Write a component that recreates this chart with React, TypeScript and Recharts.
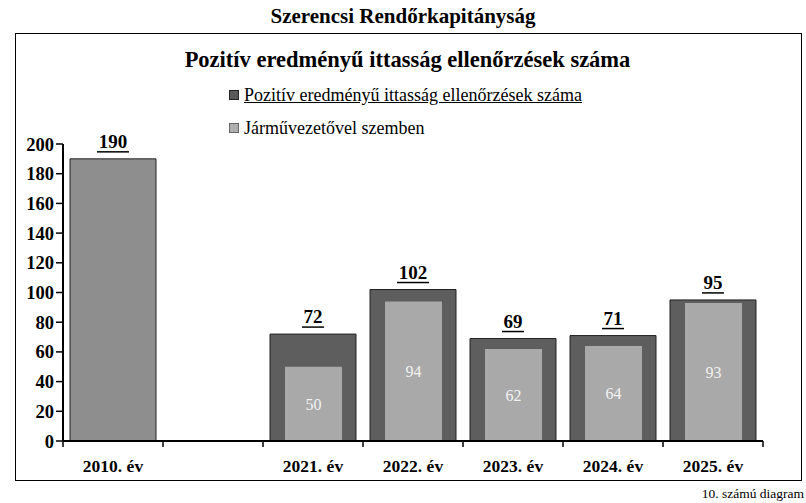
import React from 'react';
import { BarChart, Bar, XAxis, YAxis, Cell, LabelList } from 'recharts';

const categories = ['2010. év', '', '2021. év', '2022. év', '2023. év', '2024. év', '2025. év'];
const totals: (number | null)[] = [190, null, 72, 102, 69, 71, 95];
const drivers: (number | null)[] = [null, null, 50, 94, 62, 64, 93];
const yTicks = [0, 20, 40, 60, 80, 100, 120, 140, 160, 180, 200];
const seriesNames = ['Pozitív eredményű ittasság ellenőrzések száma', 'Járművezetővel szemben'];

const data = categories.map((c, i) => ({ cat: c, total: totals[i], inner: drivers[i] }));

const FONT = '"Liberation Serif", "DejaVu Serif", serif';

const CatTick = (props: any) => {
  const { x, y, payload, index } = props;
  const half = 50;
  return (
    <g>
      <line x1={x - half} y1={y - 8} x2={x - half} y2={y - 2} stroke="#000" strokeWidth={1.5} />
      {index === categories.length - 1 && (
        <line x1={x + half} y1={y - 8} x2={x + half} y2={y - 2} stroke="#000" strokeWidth={1.5} />
      )}
      <text x={x} y={y + 23} textAnchor="middle" fontFamily={FONT} fontWeight="bold" fontSize={17.5} fill="#000">
        {payload.value}
      </text>
    </g>
  );
};

const TopLabel = (props: any) => {
  const { x, y, width, value } = props;
  if (value == null) return null;
  const cx = x + width / 2;
  const w = String(value).length * 10;
  return (
    <g>
      <text x={cx} y={y - 11} textAnchor="middle" fontFamily={FONT} fontWeight="bold" fontSize={19} fill="#000">
        {value}
      </text>
      <line x1={cx - w / 2 - 1} x2={cx + w / 2 + 1} y1={y - 7} y2={y - 7} stroke="#000" strokeWidth={1.5} />
    </g>
  );
};

export default function App() {
  return (
    <div style={{ position: 'absolute', left: 0, top: 0, width: 806, height: 503, background: '#fff', fontFamily: FONT }}>
      <div style={{ position: 'absolute', left: 0, width: 806, top: 4, textAlign: 'center', fontWeight: 'bold', fontSize: 21, color: '#000' }}>
        Szerencsi Rendőrkapitányság
      </div>
      <div style={{ position: 'absolute', left: 15, top: 33, width: 787, height: 448, border: '1.5px solid #000', boxSizing: 'border-box' }} />
      <div style={{ position: 'absolute', left: 15, width: 785, top: 47, textAlign: 'center', fontWeight: 'bold', fontSize: 22.5, color: '#000' }}>
        Pozitív eredményű ittasság ellenőrzések száma
      </div>
      <div style={{ position: 'absolute', right: 2, top: 486, fontSize: 13.5, color: '#000' }}>10. számú diagram</div>
      <div style={{ position: 'absolute', left: 0, top: 0 }}>
        <BarChart width={806} height={503} data={data} margin={{ top: 144, right: 43, bottom: 32, left: 13 }} barCategoryGap={0}>
          <XAxis xAxisId="a" dataKey="cat" tick={<CatTick />} tickLine={false} axisLine={{ stroke: '#000', strokeWidth: 2 }} height={30} interval={0} />
          <XAxis xAxisId="b" dataKey="cat" hide />
          <YAxis
            domain={[0, 200]}
            ticks={yTicks}
            width={50}
            interval={0}
            axisLine={{ stroke: '#000', strokeWidth: 2 }}
            tickLine={{ stroke: '#000', strokeWidth: 1.5 }}
            tickSize={7}
            tick={{ fill: '#000', fontFamily: FONT, fontWeight: 'bold', fontSize: 18.5 }}
          />
          <Bar xAxisId="a" dataKey="total" name={seriesNames[0]} barSize={86} stroke="#222" strokeWidth={1} isAnimationActive={false}>
            {data.map((d, i) => (
              <Cell key={i} fill={i === 0 ? '#8e8e8e' : '#5e5e5e'} />
            ))}
            <LabelList dataKey="total" content={<TopLabel />} />
          </Bar>
          <Bar xAxisId="b" dataKey="inner" name={seriesNames[1]} barSize={57} fill="#a9a9a9" isAnimationActive={false}>
            <LabelList dataKey="inner" position="center" fill="#f2f2f2" fontFamily={FONT} fontSize={16} />
          </Bar>
        </BarChart>
      </div>
      <div style={{ position: 'absolute', left: 229, top: 84, fontFamily: FONT, fontSize: 18, color: '#000', lineHeight: '22px' }}>
        <div style={{ display: 'flex', alignItems: 'center', marginBottom: 11 }}>
          <span style={{ display: 'inline-block', width: 8, height: 8, background: '#5a5a5a', border: '1px solid #222', marginRight: 5 }} />
          <span style={{ textDecoration: 'underline' }}>{seriesNames[0]}</span>
        </div>
        <div style={{ display: 'flex', alignItems: 'center' }}>
          <span style={{ display: 'inline-block', width: 8, height: 8, background: '#b0b0b0', border: '1px solid #666', marginRight: 5 }} />
          <span>{seriesNames[1]}</span>
        </div>
      </div>
    </div>
  );
}
